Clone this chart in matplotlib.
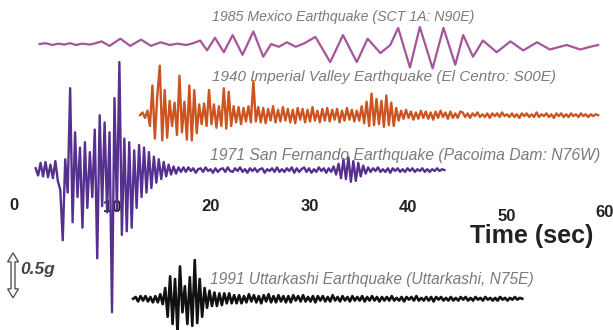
import numpy as np
import matplotlib
matplotlib.use("Agg")
import matplotlib.pyplot as plt
from matplotlib.patches import Polygon

# ground acceleration records (g)
# 1985 Mexico: smooth, so peaks and troughs only
mex_t = [2.6, 3.2, 3.9, 4.5, 5.1, 5.7, 6.3, 6.9, 7.7, 8.3,
         8.9, 9.7, 10.8, 11.8, 12.9, 13.9, 14.9, 15.8, 16.6, 17.5,
         18.2, 18.9, 19.6, 20.4, 21.3, 22.2, 23.2, 24.3, 25.3, 26.1,
         26.9, 27.7, 28.6, 29.5, 30.6, 32.1, 33.4, 34.8, 35.9, 37.2,
         38.2, 39.0, 40.2, 41.2, 42.5, 43.6, 44.8, 45.6, 46.6, 47.6,
         49.0, 50.4, 51.7, 53.1, 54.4, 56.1, 57.5, 58.5, 59.3]
mex_acc = [0.00, 0.01, -0.01, 0.005, -0.005, 0.01, -0.01, 0.005, -0.005, 0.01,
           0.03, -0.02, 0.06, -0.02, 0.05, -0.02, 0.02, -0.01, 0.005, -0.01,
           0.01, 0.04, -0.07, 0.07, -0.09, 0.10, -0.12, 0.14, -0.14, 0.00,
           -0.03, 0.02, -0.03, 0.01, 0.08, -0.20, 0.10, -0.20, 0.06, -0.10,
           -0.01, 0.18, -0.26, 0.19, -0.27, 0.18, -0.23, 0.10, -0.14, 0.04,
           -0.09, 0.03, -0.07, 0.02, -0.06, -0.01, -0.06, -0.03, -0.01]

# the other three: one sample every 0.25 s
dt = 0.25

elc_t0 = 12.8
elc_acc = [0.00, 0.03, -0.03, 0.05, -0.12, 0.33, -0.26, 0.22, 0.55, -0.28,
           0.28, -0.25, 0.16, -0.12, 0.14, -0.22, 0.44, -0.19, 0.15, -0.27,
           0.33, -0.28, 0.28, -0.20, 0.12, -0.10, 0.13, -0.12, 0.28, -0.10,
           0.12, -0.14, 0.10, -0.12, 0.30, -0.15, 0.26, -0.12, 0.10, -0.08,
           0.09, -0.10, 0.08, -0.07, 0.10, -0.08, 0.38, -0.07, 0.09, -0.08,
           0.08, -0.09, 0.07, -0.06, 0.10, -0.08, 0.06, -0.07, 0.09, -0.06,
           0.07, -0.08, 0.06, -0.09, 0.08, -0.05, 0.07, -0.08, 0.06, -0.07,
           0.09, -0.06, 0.05, -0.08, 0.07, -0.06, 0.08, -0.07, 0.06, -0.05,
           0.07, -0.08, 0.05, -0.06, 0.08, -0.05, 0.06, -0.07, 0.05, -0.06,
           0.10, -0.09, 0.15, -0.12, 0.24, -0.11, 0.18, -0.10, 0.16, -0.13,
           0.22, -0.11, 0.14, -0.12, 0.08, -0.06,
           0.05, -0.04, 0.06, -0.03, 0.04, -0.05, 0.03, -0.04, 0.05, -0.03,
           0.04, -0.04, 0.03, -0.05, 0.04, -0.03, 0.05, -0.02, 0.03, -0.04,
           0.04, -0.03, 0.02, -0.03, 0.04,
           0.03, -0.02, 0.02, -0.03, 0.02, -0.01, 0.03, -0.02, 0.01, -0.02,
           0.02, -0.03, 0.02, -0.01, 0.02, -0.02, 0.03, -0.01, 0.01, -0.02,
           0.02, -0.02, 0.01, -0.03, 0.02, -0.01, 0.02, -0.02, 0.01, -0.02,
           0.03, -0.02, 0.01, -0.01, 0.02, -0.02, 0.01, -0.03, 0.02, -0.01,
           0.02, -0.02, 0.01, -0.02, 0.02, -0.01, 0.01, -0.02, 0.02, -0.01,
           0.01, -0.02, 0.01, -0.01, 0.01, 0.00]

sfe_t0 = 2.2
sfe_acc = [0.02, -0.06, 0.08, -0.07, 0.09, -0.08, 0.06, -0.09, 0.10, -0.12,
           -0.22, -0.78, 0.12, -0.25, 0.91, -0.58, 0.42, -0.30, 0.25, -0.64,
           0.31, -0.42, 0.20, -0.30, 0.45, -0.98, 0.61, -0.40, 0.53, -0.47,
           0.42, -1.58, 0.80, -0.45, 1.20, -0.72, 0.35, -0.68, 0.31, -0.64,
           0.22, -0.42, 0.28, -0.30, 0.25, -0.25, 0.20, -0.20, 0.15, -0.14,
           0.12, -0.10, 0.09, -0.07, 0.06, -0.05, 0.04, -0.04, 0.03, -0.02, 0.03,
           -0.02, 0.03, -0.01, 0.02, -0.03, 0.01, 0.02, -0.02, 0.03, -0.01,
           0.01, -0.03, 0.02, -0.02, 0.01, 0.02, -0.02, 0.03, -0.01, -0.02,
           0.02, -0.01, 0.03, -0.02, 0.01, -0.03, 0.02, -0.01, 0.02, -0.02,
           0.01, 0.02, -0.03, 0.01, -0.01, 0.02, -0.02, 0.03, -0.02, 0.01,
           -0.02, 0.02, -0.01, 0.03, -0.03, 0.02, -0.02, 0.01, 0.03, -0.02,
           0.02, -0.03, 0.01, -0.02, 0.03, -0.01, 0.02, -0.03, 0.02, -0.02,
           0.04, -0.05, 0.07, -0.09, 0.12, -0.10, 0.14, -0.13, 0.10, -0.12,
           0.08, -0.07, 0.05, -0.04, 0.03,
           -0.02, 0.02, -0.01, 0.03, -0.02, 0.01, -0.02, 0.02, -0.03, 0.02,
           -0.01, 0.02, -0.02, 0.01, -0.02, 0.02, -0.01, 0.02, -0.02, 0.01,
           -0.01, 0.02, -0.02, 0.01, -0.02, 0.01, -0.01, 0.02, -0.01, 0.01, 0.00]

utk_t0 = 12.1
utk_acc = [0.00, 0.02, -0.03, 0.03, -0.02, 0.03, -0.03, 0.02, -0.04, 0.03,
           -0.04, 0.05, -0.06,
           0.12, -0.20, 0.25, -0.28, 0.22, -0.37, 0.36, -0.15,
           0.14, -0.28, 0.24, -0.30, 0.43, -0.27, 0.22, -0.20, 0.12, -0.10,
           0.09, -0.08, 0.07, -0.08, 0.06, -0.07, 0.06, -0.05, 0.06, -0.05,
           0.04, -0.05,
           0.04, -0.05, 0.03, -0.04, 0.05, -0.03, 0.04, -0.04, 0.03, -0.05,
           0.04, -0.03, 0.05, -0.04, 0.03, -0.04, 0.04, -0.03, 0.03, -0.04,
           0.03, -0.04, 0.04, -0.02, 0.03, -0.03, 0.04, -0.03, 0.02, -0.03,
           0.03, -0.04, 0.03, -0.02, 0.03, -0.03, 0.02, -0.03, 0.04, -0.02,
           0.02, -0.03, 0.03, -0.02, 0.02, -0.03, 0.03, -0.02, 0.02, -0.02,
           0.03, -0.03, 0.02, -0.02, 0.03, -0.02, 0.02, -0.03, 0.02, -0.02,
           0.02, -0.02, 0.03, -0.02, 0.01, -0.02, 0.02, -0.03, 0.02, -0.01,
           0.02, -0.02, 0.03, -0.02, 0.01, -0.02, 0.02, -0.02, 0.02, -0.03,
           0.02, -0.01, 0.02, -0.02, 0.01, -0.02, 0.02, -0.02, 0.01, -0.02,
           0.02, -0.01, 0.02, -0.02, 0.01, -0.02, 0.02, -0.01, 0.01, -0.02,
           0.02, -0.01, 0.01, -0.02, 0.01, -0.02, 0.02, -0.01, 0.01, -0.02,
           0.01, -0.01, 0.02, -0.01, 0.01, 0.00]

names = ["1985 Mexico Earthquake (SCT 1A: N90E)",
         "1940 Imperial Valley Earthquake (El Centro: S00E)",
         "1971 San Fernando Earthquake (Pacoima Dam: N76W)",
         "1991 Uttarkashi Earthquake (Uttarkashi, N75E)"]
time_ticks = [0, 10, 20, 30, 40, 50, 60]
scale_g = 0.5

# layout (y in g, measured down from the top edge)
baselines = [-0.49, -1.28, -1.89, -3.32]
name_y = [-0.19, -0.86, -1.73, -3.11]
name_x = [20.1, 20.1, 19.9, 19.9]
name_size = [10.2, 11.0, 11.3, 11.2]
tick_y = [-2.28, -2.31, -2.29, -2.30, -2.31, -2.41, -2.36]
colors = ["#a5559a", "#cc5420", "#55308f", "#111111"]
widths = [1.6, 1.7, 1.7, 1.9]

fig = plt.figure(figsize=(6.13, 3.30), dpi=100)
ax = fig.add_axes([0, 0, 1, 1])
ax.set_xlim(-1.42, 60.81)
ax.set_ylim(-3.667, 0)
ax.axis("off")

traces = [
    (np.array(mex_t), np.array(mex_acc)),
    (elc_t0 + dt * np.arange(len(elc_acc)), np.array(elc_acc)),
    (sfe_t0 + dt * np.arange(len(sfe_acc)), np.array(sfe_acc)),
    (utk_t0 + dt * np.arange(len(utk_acc)), np.array(utk_acc)),
]
for (t, a), y0, c, lw in zip(traces, baselines, colors, widths):
    ax.plot(t, y0 + a, color=c, lw=lw, zorder=3)

for nm, x, y, fs in zip(names, name_x, name_y, name_size):
    ax.text(x, y, nm, fontsize=fs, style="italic", color="#7a7a7a",
            family="Liberation Sans", va="center", ha="left", zorder=4)

# time axis labels, no axis line
for v, y in zip(time_ticks, tick_y):
    ax.text(v, y, str(v), fontsize=12, weight="bold", color="#222222",
            family="Liberation Sans", ha="center", va="center", zorder=1)
ax.text(46.3, -2.62, "Time (sec)", fontsize=18, weight="bold", color="#222222",
        family="Liberation Sans", ha="left", va="center", zorder=1)

# 0.5g scale arrow (hollow, double headed)
ax_x, top, bot = -0.1, -2.81, -2.81 - scale_g
w, hw, hl = 0.2, 0.55, 0.1
pts = [(ax_x, top), (ax_x + hw, top - hl), (ax_x + w, top - hl),
       (ax_x + w, bot + hl), (ax_x + hw, bot + hl), (ax_x, bot),
       (ax_x - hw, bot + hl), (ax_x - w, bot + hl), (ax_x - w, top - hl),
       (ax_x - hw, top - hl)]
ax.add_patch(Polygon(pts, closed=True, facecolor="white", edgecolor="#555555", lw=1.0))
ax.text(0.6, -3.0, "0.5g", fontsize=12.5, style="italic", weight="bold",
        color="#444444", family="Liberation Sans", ha="left", va="center")

fig.savefig("out.png", dpi=100)
